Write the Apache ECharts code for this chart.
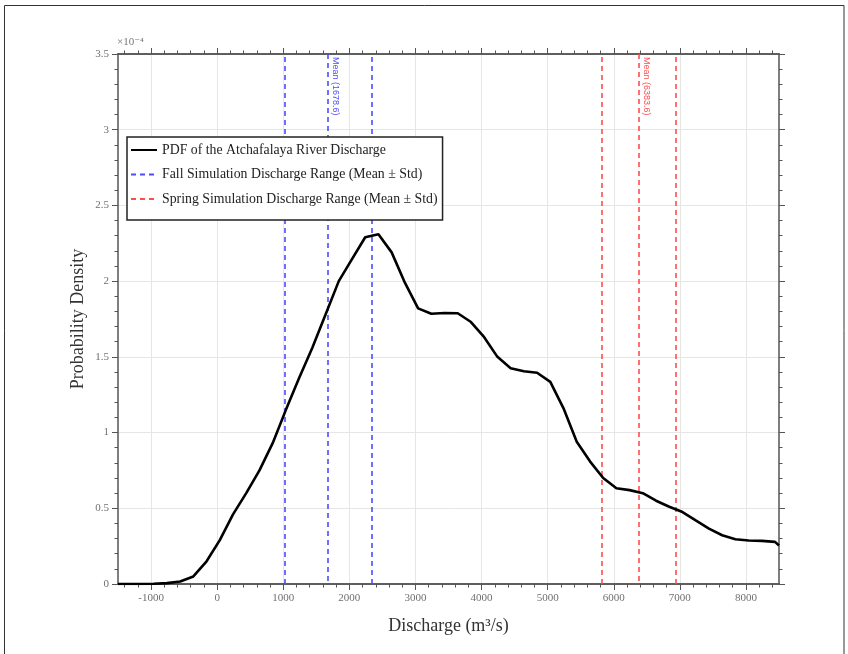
<!DOCTYPE html>
<html>
<head>
<meta charset="utf-8">
<script src="https://cdn.jsdelivr.net/npm/echarts@6/dist/echarts.min.js"></script>
<style>
html,body{margin:0;padding:0;background:#fff;}
#chart{width:848px;height:654px;}
</style>
</head>
<body>
<div id="chart"></div>
<script>
// Discharge grid (m^3/s) and PDF values (x 1e-4)
const pdfX = [-1500, -1160, -960, -760, -560, -360, -160, 40, 240, 440, 640, 840, 1040, 1240, 1440, 1640, 1840, 2040, 2240, 2440, 2640, 2840, 3040, 3240, 3440, 3640, 3840, 4040, 4240, 4440, 4640, 4840, 5040, 5240, 5440, 5640, 5840, 6040, 6240, 6440, 6640, 6840, 7040, 7240, 7440, 7640, 7840, 8040, 8240, 8440, 8500];
const pdfY = [0.0, 0.0, 0.002, 0.006, 0.016, 0.05, 0.15, 0.29, 0.46, 0.60, 0.75, 0.93, 1.15, 1.36, 1.56, 1.78, 2.0, 2.145, 2.29, 2.31, 2.19, 1.99, 1.82, 1.785, 1.79, 1.788, 1.73, 1.63, 1.50, 1.425, 1.405, 1.395, 1.335, 1.16, 0.94, 0.81, 0.70, 0.632, 0.62, 0.60, 0.55, 0.51, 0.475, 0.42, 0.366, 0.322, 0.296, 0.287, 0.285, 0.278, 0.254];
// Mean - Std, Mean, Mean + Std
const fallLines = [1018, 1678.6, 2339];
const springLines = [5826, 6383.6, 6941];
const fallMeanLabel = 'Mean (1678.6)';
const springMeanLabel = 'Mean (6383.6)';
const seriesNames = ['PDF of the Atchafalaya River Discharge', 'Fall Simulation Discharge Range (Mean \u00b1 Std)', 'Spring Simulation Discharge Range (Mean \u00b1 Std)'];
const xRange = [-1500, 8500];
const xMajorTicks = [-1000, 0, 1000, 2000, 3000, 4000, 5000, 6000, 7000, 8000];
const xMinorStep = 200;
const yRange = [0, 3.5];

const xMinorTicks = [];
for (let v = -1400; v <= 8400; v += xMinorStep) { if (v % 1000 !== 0) xMinorTicks.push(v); }

const serif = '"Liberation Serif", "DejaVu Serif", serif';
const blue = '#4d4dff';
const red = '#ff4d4d';

function vlines(vals, color, meanLabel) {
  return vals.map((v, i) => {
    if (i === 1) {
      return [
        {coord: [v, yRange[1]], label: {show: true, formatter: meanLabel, position: 'insideStartTop', color: color, fontSize: 9, fontFamily: '"Liberation Sans", Arial, sans-serif', distance: 3}},
        {coord: [v, yRange[0]]}
      ];
    }
    return [{coord: [v, yRange[0]]}, {coord: [v, yRange[1]]}];
  });
}

const pdfData = pdfX.map((x, i) => [x, pdfY[i]]);

const axisLineStyle = {color: '#555', width: 1.5};
const tickStyle = {color: '#555', width: 1};

function xAxisDef(pos, main, minor) {
  return {
    type: 'value', min: xRange[0], max: xRange[1], position: pos,
    name: main ? 'Discharge (m\u00b3/s)' : '', nameLocation: 'middle', nameGap: 33,
    nameTextStyle: {fontFamily: serif, fontSize: 18, color: '#333'},
    axisLine: {show: true, onZero: false, lineStyle: axisLineStyle},
    axisTick: {show: true, inside: false, length: minor ? 3.5 : 6, lineStyle: tickStyle,
               customValues: minor ? xMinorTicks : xMajorTicks},
    minorTick: {show: false},
    axisLabel: {show: main, customValues: xMajorTicks, formatter: v => String(v),
                fontFamily: serif, fontSize: 11, color: '#707070', margin: 9},
    splitLine: {show: main, lineStyle: {color: '#e6e6e6', width: 1}}
  };
}
function yAxisDef(pos, main) {
  return {
    type: 'value', min: yRange[0], max: yRange[1], interval: 0.5, position: pos,
    name: main ? 'Probability Density' : '', nameLocation: 'middle', nameGap: 31,
    nameMoveOverlap: false,
    nameTextStyle: {fontFamily: serif, fontSize: 18, color: '#333'},
    axisLine: {show: true, onZero: false, lineStyle: axisLineStyle},
    axisTick: {show: true, inside: false, length: 6, lineStyle: tickStyle},
    minorTick: {show: true, splitNumber: 5, length: 3.5, lineStyle: tickStyle},
    axisLabel: {show: main, fontFamily: serif, fontSize: 11, color: '#707070', margin: 9},
    splitLine: {show: main, lineStyle: {color: '#e6e6e6', width: 1}}
  };
}

const chart = echarts.init(document.getElementById('chart'), null, {renderer: 'canvas'});
chart.setOption({
  animation: false,
  backgroundColor: '#fff',
  grid: {left: 118, right: 69, top: 54, bottom: 70, containLabel: false},
  legend: {
    orient: 'vertical', left: 127, top: 137, z: 20,
    data: seriesNames,
    backgroundColor: '#fff', borderColor: '#222', borderWidth: 1.5,
    padding: [6, 5, 14, 3], itemGap: 10.5, itemWidth: 26, itemHeight: 14,
    itemStyle: {opacity: 0, borderWidth: 0},
    textStyle: {fontFamily: serif, fontSize: 13.8, color: '#222'}
  },
  xAxis: [xAxisDef('bottom', true, false), xAxisDef('top', false, false),
          xAxisDef('bottom', false, true), xAxisDef('top', false, true)],
  yAxis: [yAxisDef('left', true), yAxisDef('right', false)],
  graphic: [
    {type: 'rect', silent: true, shape: {x: 4.5, y: 5.5, width: 839.5, height: 700},
     style: {fill: 'none', stroke: '#333', lineWidth: 1}},
    {type: 'text', left: 117, top: 37, silent: true,
     style: {text: '\u00d710\u207b\u2074', fontFamily: serif, fontSize: 11, fill: '#777'}}
  ],
  series: [{
    name: seriesNames[0], type: 'line', data: pdfData, symbol: 'none', z: 5,
    lineStyle: {color: '#000', width: 2.6}, itemStyle: {color: '#000'}
  }, {
    name: seriesNames[1], type: 'line', data: [], symbol: 'none',
    lineStyle: {color: blue, width: 1.6, type: [5, 4]}, itemStyle: {color: blue},
    markLine: {silent: true, symbol: ['none', 'none'], animation: false,
      lineStyle: {color: blue, width: 1.6, type: [5, 4]}, label: {show: false},
      data: vlines(fallLines, blue, fallMeanLabel)}
  }, {
    name: seriesNames[2], type: 'line', data: [], symbol: 'none',
    lineStyle: {color: red, width: 1.6, type: [5, 4]}, itemStyle: {color: red},
    markLine: {silent: true, symbol: ['none', 'none'], animation: false,
      lineStyle: {color: red, width: 1.6, type: [5, 4]}, label: {show: false},
      data: vlines(springLines, red, springMeanLabel)}
  }]
});
</script>
</body>
</html>
